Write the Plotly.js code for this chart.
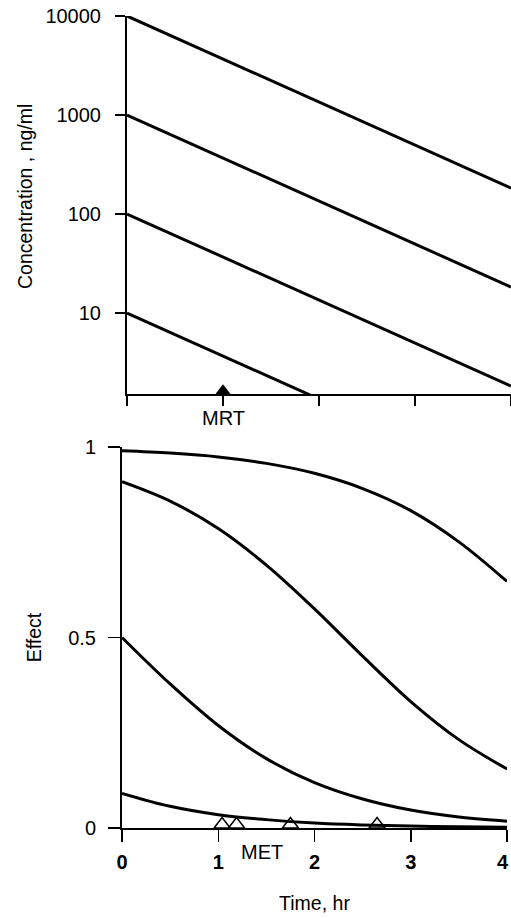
<!DOCTYPE html>
<html>
<head>
<meta charset="utf-8">
<script src="https://cdn.plot.ly/plotly-3.0.1.min.js"></script>
<style>html,body{margin:0;padding:0;background:#fff;}#chart{width:511px;height:918px;}</style>
</head>
<body>
<div id="chart"></div>
<script>
// ---- Top panel: concentration (log scale), straight lines between t = 0 and t = 4 hr
const concTime = [0, 4];
const conc10000 = [10000, 183];
const conc1000 = [1000, 18.3];
const conc100 = [100, 1.83];
const conc10 = [10, 0.183];

// MRT marker
const mrtTime = [1];
const mrtLevel = [1.64];
const mrtLabel = "MRT";

// ---- Bottom panel: effect vs time
const effectTime = [0, 0.5, 1, 1.5, 2, 2.5, 3, 3.5, 4];
const effect10000 = [0.990, 0.984, 0.974, 0.957, 0.931, 0.891, 0.833, 0.751, 0.647];
const effect1000 = [0.909, 0.858, 0.786, 0.690, 0.575, 0.451, 0.332, 0.232, 0.155];
const effect100 = [0.500, 0.378, 0.269, 0.182, 0.119, 0.076, 0.047, 0.029, 0.018];
const effect10 = [0.091, 0.057, 0.035, 0.022, 0.013, 0.008, 0.005, 0.003, 0.002];

// MET markers
const metTime = [1.04, 1.19, 1.75, 2.65];
const metLevel = [0.009, 0.009, 0.009, 0.009];
const metLabel = "MET";

// Tick labels and titles
const concTickVals = [10, 100, 1000, 10000];
const concTickText = ["10", "100", "1000", "10000"];
const effectTickVals = [0, 0.5, 1];
const effectTickText = ["0", "0.5", "1"];
const timeTickVals = [0, 1, 2, 3, 4];
const timeTickText = ["0", "1", "2", "3", "4"];
const concTitle = "Concentration , ng/ml";
const effectTitle = "Effect";
const timeTitle = "Time, hr";

const FONT = "Arial, 'Liberation Sans', sans-serif";
const W = 511, H = 918;

const lineStyle = {color: "#000", width: 3};
const traces = [];
[conc10000, conc1000, conc100, conc10].forEach(c => {
  traces.push({x: concTime, y: c, xaxis: "x", yaxis: "y", mode: "lines", line: lineStyle, hoverinfo: "skip"});
});
traces.push({x: mrtTime, y: mrtLevel, xaxis: "x", yaxis: "y", mode: "markers",
  marker: {symbol: "triangle-up", size: 13, color: "#000"}, cliponaxis: false});

[effect10000, effect1000, effect100, effect10].forEach(e => {
  traces.push({x: effectTime, y: e, xaxis: "x2", yaxis: "y2", mode: "lines",
    line: {color: "#000", width: 3, shape: "spline", smoothing: 1}, hoverinfo: "skip"});
});
traces.push({x: metTime, y: metLevel, xaxis: "x2", yaxis: "y2", mode: "markers",
  marker: {symbol: "triangle-up-open", size: 14, color: "#000", line: {color: "#000", width: 1.5}}, cliponaxis: false});

const axisCommon = {showgrid: false, zeroline: false, showline: true, linecolor: "#000", linewidth: 2,
  ticks: "outside", tickcolor: "#000", tickwidth: 1.5, automargin: false, ticklabeloverflow: "allow"};

// last time tick label is drawn as an annotation so it stays inside the page edge
const lastIdx = timeTickText.length - 1;
const timeTickTextAxis = timeTickText.map((t, i) => (i === lastIdx ? "" : t));

const layout = {
  width: W, height: H,
  margin: {l: 0, r: 0, t: 0, b: 0},
  paper_bgcolor: "#fff", plot_bgcolor: "rgba(0,0,0,0)",
  showlegend: false,
  font: {family: FONT, color: "#000", size: 20},
  xaxis: Object.assign({}, axisCommon, {
    domain: [127 / W, 1], range: [0, 4], anchor: "y",
    tickvals: timeTickVals, showticklabels: false, ticklen: 10
  }),
  yaxis: Object.assign({}, axisCommon, {
    domain: [1 - 394 / H, 1 - 16 / H], type: "log", range: [0.182, 4], anchor: "x",
    tickvals: concTickVals, ticktext: concTickText, ticklen: 10, ticklabelstandoff: 10,
    tickfont: {family: FONT, size: 20}
  }),
  xaxis2: Object.assign({}, axisCommon, {
    domain: [122 / W, 507 / W], range: [0, 4], anchor: "y2",
    tickvals: timeTickVals, ticktext: timeTickTextAxis, ticklen: 12, ticklabelstandoff: 3,
    tickfont: {family: FONT, size: 20, weight: "bold"},
    title: {text: timeTitle, font: {family: FONT, size: 19.5}, standoff: 24}
  }),
  yaxis2: Object.assign({}, axisCommon, {
    domain: [1 - 828 / H, 1 - 447 / H], range: [0, 1], anchor: "x2",
    tickvals: effectTickVals, ticktext: effectTickText, ticklen: 12, ticklabelstandoff: 8,
    tickfont: {family: FONT, size: 20},
    title: {text: effectTitle, font: {family: FONT, size: 19.5}, standoff: 21}
  }),
  annotations: [
    {text: concTitle, textangle: -90, x: 25 / W, xref: "paper", y: 1 - 197 / H, yref: "paper",
      showarrow: false, font: {family: FONT, size: 19.5}, xanchor: "center", yanchor: "middle"},
    {text: mrtLabel, x: mrtTime[0], xref: "x", y: 1 - 418 / H, yref: "paper",
      showarrow: false, font: {family: FONT, size: 20}, xanchor: "center", yanchor: "middle"},
    {text: metLabel, x: 1.455, xref: "x2", y: 1 - 852 / H, yref: "paper",
      showarrow: false, font: {family: FONT, size: 20}, xanchor: "center", yanchor: "middle"},
    {text: timeTickText[lastIdx], x: 1, xref: "paper", y: 1 - 862 / H, yref: "paper",
      showarrow: false, font: {family: FONT, size: 20, weight: "bold"}, xanchor: "right", yanchor: "middle"}
  ]
};

Plotly.newPlot("chart", traces, layout, {displayModeBar: false, staticPlot: true});
</script>
</body>
</html>
